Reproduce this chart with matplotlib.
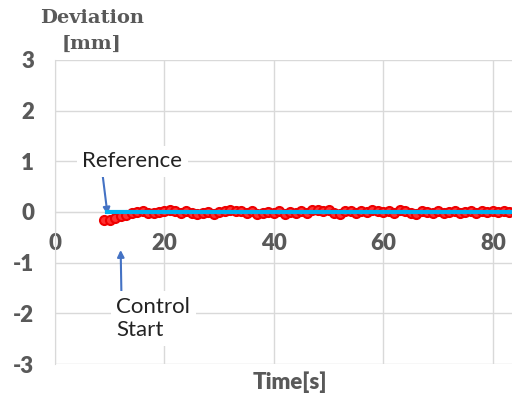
import matplotlib
matplotlib.use('Agg')
import matplotlib.pyplot as plt

plt.rcParams['axes.unicode_minus'] = False

# measured deviation [mm], one sample per second from t = 9 s
time_s = list(range(9, 85))
deviation = [-0.15, -0.16, -0.12, -0.08, -0.05, -0.02, 0.0, 0.01, -0.01, -0.02,
             0.0, 0.01, 0.03, 0.02, -0.01, 0.01, -0.02, -0.03, -0.02, 0.0,
             -0.03, 0.0, 0.02, 0.03, 0.01, 0.02, -0.02, 0.01, -0.03, -0.01,
             0.0, -0.02, 0.01, -0.03, 0.0, -0.01, 0.02, -0.02, 0.03, 0.04,
             0.01, 0.03, -0.02, -0.04, 0.02, 0.01, -0.01, 0.02, 0.0, 0.03,
             0.01, 0.0, 0.02, -0.02, 0.03, 0.02, -0.01, -0.03, 0.02, 0.0,
             -0.01, 0.02, -0.01, 0.0, 0.02, -0.01, 0.0, 0.01, -0.01, 0.01,
             0.0, 0.01, 0.0, 0.01, 0.0, 0.01]
ref_time = [9.5, 84]
ref_value = [0, 0]

x_ticks = [0, 20, 40, 60, 80]
y_ticks = [-3, -2, -1, 0, 1, 2, 3]

grey = '#595959'
grid = '#d9d9d9'
blue = '#4472C4'

fig = plt.figure(figsize=(5.12, 3.96), dpi=100)
ax = fig.add_axes([0.1074, 0.0808, 0.8926, 0.7677])

ax.plot(time_s, deviation, color='#ff0000', lw=3, marker='o', ms=6.5,
        mfc='#ff3030', mec='#ee0000', mew=1.5, zorder=3)
ax.plot(ref_time, ref_value, color='#00b0f0', lw=3, zorder=4)

ax.set_xlim(0, 83.5)
ax.set_ylim(-3, 3)
ax.set_xticks(x_ticks)
ax.set_yticks(y_ticks)
ax.grid(True, color=grid, lw=1)
ax.set_axisbelow(True)

for s in ['top', 'right']:
    ax.spines[s].set_visible(False)
ax.spines['left'].set_color(grid)
ax.spines['bottom'].set_position(('data', 0))
ax.spines['bottom'].set_color(grid)
ax.tick_params(length=0)
ax.tick_params(axis='x', pad=15)
ax.tick_params(axis='y', pad=15)
for lab in ax.get_xticklabels() + ax.get_yticklabels():
    lab.set_family('Lato')
    lab.set_fontweight('heavy')
    lab.set_fontsize(16)
    lab.set_color(grey)

fig.text(0.18, 0.955, 'Deviation', family='DejaVu Serif', fontweight='bold',
         fontsize=14, color=grey, ha='center', va='center')
fig.text(0.178, 0.89, '[mm]', family='DejaVu Serif', fontweight='bold',
         fontsize=14, color=grey, ha='center', va='center')
fig.text(0.567, 0.036, 'Time[s]', family='Lato', fontweight='heavy',
         fontsize=16, color=grey, ha='center', va='center')

box = dict(facecolor='white', edgecolor='none', pad=4)
ax.annotate('Reference', xy=(9.6, -0.05), xytext=(14.1, 1.0),
            ha='center', va='center', family='Lato', fontsize=16, color='#222222',
            bbox=box,
            arrowprops=dict(arrowstyle='-|>', color=blue, lw=1.5,
                            mutation_scale=10, shrinkA=0, shrinkB=0,
                            relpos=(0.2, 0.0)))
ax.annotate('Control\nStart', xy=(12, -0.75), xytext=(11.2, -2.1),
            ha='left', va='center', family='Lato', fontsize=16, color='#222222',
            linespacing=1.2, bbox=box,
            arrowprops=dict(arrowstyle='-|>', color=blue, lw=1.5,
                            mutation_scale=10, shrinkA=0, shrinkB=0,
                            relpos=(0.07, 1.0)))

fig.savefig('out.png', dpi=100)
